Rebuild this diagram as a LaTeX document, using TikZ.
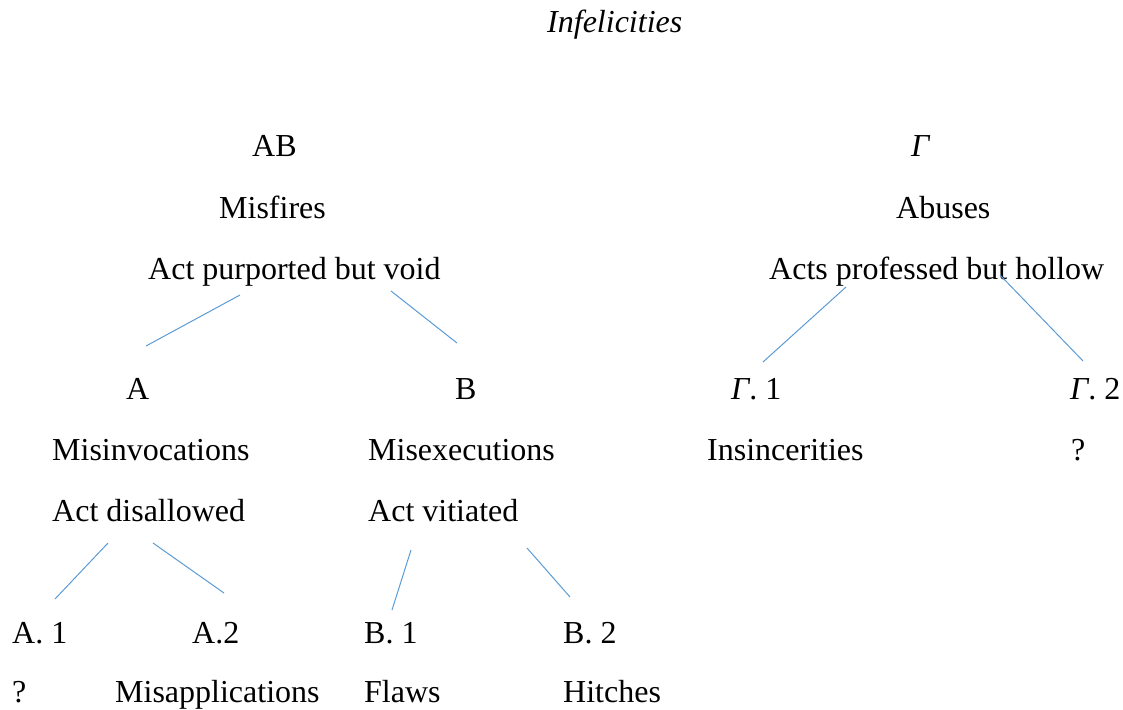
\documentclass[tikz,border=0pt]{standalone}
\usepackage{fontspec}
\setmainfont{Liberation Serif}
\begin{document}
\begin{tikzpicture}
[x=1pt,y=-1pt,%
  textdecorate/.style={anchor=base west,inner sep=0pt,font=\fontsize{32}{38}\selectfont},%
  linedecorate/.style={-,draw={rgb,255:red,91;green,155;blue,213},line width=1pt}]
\useasboundingbox (0,0) rectangle (1123,709);
%% title
\node (title) at (547,33) [textdecorate] {\textit{Infelicities}};
%% nodes or labels
\foreach \nodename/\x/\y/\txt in {ab/252/156/AB, misfires/219/218/Misfires,
  purported/148/279/Act purported but void,
  gamma/911/156/\textit{Γ}, abuses/896/218/Abuses,
  professed/769/279/Acts professed but hollow,
  a/126/399/A, b/455/399/B, gone/731/399/\textit{Γ}. 1, gtwo/1070/399/\textit{Γ}. 2,
  misinv/52/460/Misinvocations, misexec/368/460/Misexecutions,
  insinc/707/460/Insincerities, gq/1071/460/?,
  disallowed/52/521/Act disallowed, vitiated/368/521/Act vitiated,
  aone/12/643/A. 1, atwo/192/643/A.2, bone/364/643/B. 1, btwo/563/643/B. 2,
  aq/12/702/?, misappl/115/702/Misapplications,
  flaws/364/702/Flaws, hitches/563/702/Hitches} {
  \node (\nodename) at (\x,\y) [textdecorate] {\txt};
}
%% line ends
\foreach \coordname/\x/\y in {pl/240/295, pr/391/291, al/146/346, br/457/343,
  hl/846/287, hr/1000/275, gl/763/362, gr/1083/361,
  dl/108/543, dr/153/543, ol/55/599, tr/224/593,
  vl/411/550, vr/527/548, el/392/610, hi/570/597} {
  \coordinate (\coordname) at (\x,\y);
}
%% edges or lines
\path
\foreach \startnode/\endnode in {pl/al, pr/br, hl/gl, hr/gr, dl/ol, dr/tr, vl/el, vr/hi} {
  (\startnode) edge[linedecorate] (\endnode)
};
\end{tikzpicture}
\end{document}
